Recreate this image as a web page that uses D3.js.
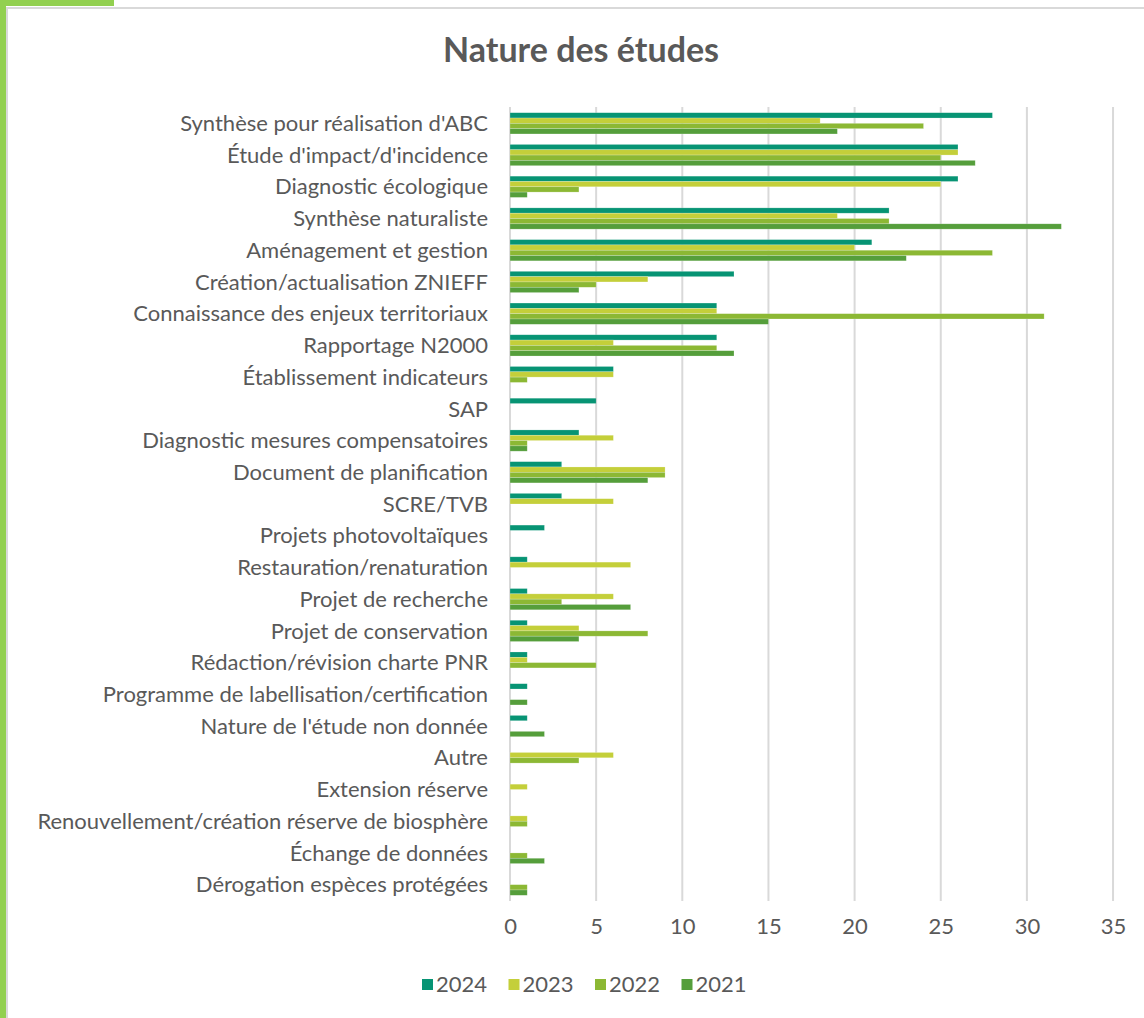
<!DOCTYPE html>
<html>
<head>
<meta charset="utf-8">
<script src="https://cdn.jsdelivr.net/npm/d3@7"></script>
<style>
  body { margin: 0; background: #fff; }
  svg text { font-family: Lato, "Open Sans", sans-serif; fill: #595959; }
</style>
</head>
<body>
<div id="chart"></div>
<script>
// Catégories (de haut en bas)
const categories = [
  "Synthèse pour réalisation d'ABC",
  "Étude d'impact/d'incidence",
  "Diagnostic écologique",
  "Synthèse naturaliste",
  "Aménagement et gestion",
  "Création/actualisation ZNIEFF",
  "Connaissance des enjeux territoriaux",
  "Rapportage N2000",
  "Établissement indicateurs",
  "SAP",
  "Diagnostic mesures compensatoires",
  "Document de planification",
  "SCRE/TVB",
  "Projets photovoltaïques",
  "Restauration/renaturation",
  "Projet de recherche",
  "Projet de conservation",
  "Rédaction/révision charte PNR",
  "Programme de labellisation/certification",
  "Nature de l'étude non donnée",
  "Autre",
  "Extension réserve",
  "Renouvellement/création réserve de biosphère",
  "Échange de données",
  "Dérogation espèces protégées"
];

const years = ["2024", "2023", "2022", "2021"];

// Valeurs par année (même ordre que categories)
const values2024 = [28, 26, 26, 22, 21, 13, 12, 12, 6, 5, 4, 3, 3, 2, 1, 1, 1, 1, 1, 1, 0, 0, 0, 0, 0];
const values2023 = [18, 26, 25, 19, 20, 8, 12, 6, 6, 0, 6, 9, 6, 0, 7, 6, 4, 1, 0, 0, 6, 1, 1, 0, 0];
const values2022 = [24, 25, 4, 22, 28, 5, 31, 12, 1, 0, 1, 9, 0, 0, 0, 3, 8, 5, 0, 0, 4, 0, 1, 1, 1];
const values2021 = [19, 27, 1, 32, 23, 4, 15, 13, 0, 0, 1, 8, 0, 0, 0, 7, 4, 0, 1, 2, 0, 0, 0, 2, 1];

const xTicks = [0, 5, 10, 15, 20, 25, 30, 35];

const colors = { "2024": "#079474", "2023": "#c4cf3a", "2022": "#8cb834", "2021": "#559e3b" };

const seriesByYear = { "2024": values2024, "2023": values2023, "2022": values2022, "2021": values2021 };
const data = categories.map((c, i) => ({
  cat: c,
  vals: years.map(y => ({ year: y, v: seriesByYear[y][i] }))
}));

const W = 1144, H = 1018;
const svg = d3.select("#chart").append("svg")
  .attr("width", W).attr("height", H);

// cadre
svg.append("rect").attr("x", 6).attr("y", 7).attr("width", W).attr("height", 2).attr("fill", "#d9d9d9");
svg.append("rect").attr("x", 6).attr("y", 7).attr("width", 2).attr("height", H).attr("fill", "#d9d9d9");
svg.append("rect").attr("x", 0).attr("y", 0).attr("width", 6).attr("height", H).attr("fill", "#92d050");
svg.append("rect").attr("x", 0).attr("y", 0).attr("width", 114).attr("height", 6).attr("fill", "#92d050");

// titre
svg.append("text")
  .attr("x", 581).attr("y", 62)
  .attr("text-anchor", "middle")
  .style("font-size", "34px")
  .style("font-weight", "bold")
  .text("Nature des études");

const plotLeft = 510, plotTop = 107, plotBottom = 901;
const x = d3.scaleLinear().domain([0, 35]).range([plotLeft, plotLeft + 35 * 17.23]);
const y0 = d3.scaleBand().domain(categories).range([plotTop, plotBottom]).paddingInner(0.33).paddingOuter(0.18);
const y1 = d3.scaleBand().domain(years).range([0, y0.bandwidth()]);

// grille
svg.append("g").selectAll("line")
  .data(xTicks)
  .enter().append("line")
  .attr("x1", d => x(d)).attr("x2", d => x(d))
  .attr("y1", plotTop).attr("y2", plotBottom)
  .attr("stroke", "#d9d9d9")
  .attr("stroke-width", 2);

// barres
const groups = svg.append("g").selectAll("g")
  .data(data)
  .enter().append("g")
  .attr("transform", d => `translate(0,${y0(d.cat)})`);

groups.selectAll("rect")
  .data(d => d.vals.filter(e => e.v > 0))
  .enter().append("rect")
  .attr("x", x(0))
  .attr("y", d => y1(d.year))
  .attr("width", d => x(d.v) - x(0))
  .attr("height", y1.bandwidth())
  .attr("fill", d => colors[d.year])
  .attr("stroke", "#ffffff")
  .attr("stroke-opacity", 0.35)
  .attr("stroke-width", 0.6);

// étiquettes des catégories
svg.append("g").selectAll("text")
  .data(categories)
  .enter().append("text")
  .attr("x", 488)
  .attr("y", d => y0(d) + y0.bandwidth() / 2)
  .attr("dy", "0.35em")
  .attr("text-anchor", "end")
  .style("font-size", "22px")
  .text(d => d);

// axe X
const xAxis = svg.append("g")
  .attr("transform", `translate(0,${plotBottom})`)
  .call(d3.axisBottom(x).tickValues(xTicks).tickSize(0).tickPadding(17));
xAxis.select(".domain").remove();
xAxis.selectAll("text")
  .style("font-size", "22px")
  .style("font-family", "Lato, sans-serif")
  .attr("fill", "#595959");

// légende
const legend = svg.append("g").attr("transform", "translate(422,984)");
const item = legend.selectAll("g")
  .data(years)
  .enter().append("g")
  .attr("transform", (d, i) => `translate(${i * 86.5},0)`);
item.append("rect")
  .attr("x", 0).attr("y", -5)
  .attr("width", 11).attr("height", 11)
  .attr("fill", d => colors[d]);
item.append("text")
  .attr("x", 14).attr("y", 0)
  .attr("dy", "0.35em")
  .style("font-size", "22px")
  .text(d => d);
</script>
</body>
</html>
